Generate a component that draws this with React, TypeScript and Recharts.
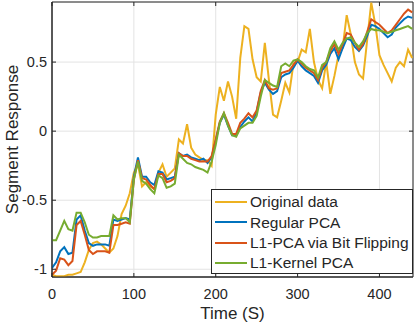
import { LineChart, Line, XAxis, YAxis, CartesianGrid, ReferenceArea, Label } from "recharts";

// sampled every 5 s, 0..440
const STEP = 5;

const original = [
  -1.04, -1.05, -1.05, -1.05, -1.04, -1.04, -1.03, -1.02, -0.95, -0.86, -0.81, -0.8, -0.82, -0.85, -0.88, -0.85, -0.76, -0.6, -0.54, -0.45, -0.3,
  -0.24, -0.4, -0.37, -0.4, -0.42, -0.3, -0.24, -0.33, -0.3, -0.27, -0.06, -0.09, 0.05, -0.12, -0.17, -0.19, -0.21,
  -0.21, -0.25, 0.12, 0.32, 0.22, 0.36, 0.25, 0.09, 0.53, 0.76, 0.74, 0.52, 0.39, 0.36, 0.64, 0.37, 0.12, 0.1, 0.22, 0.35, 0.28, 0.49,
  0.5, 0.59, 0.57, 0.74, 0.5, 0.37, 0.31, 0.5, 0.27, 0.4, 0.55, 0.6, 0.84, 0.7, 0.5, 0.41, 0.38, 0.66, 0.93, 0.77, 0.55, 0.48, 0.42,
  0.36, 0.46, 0.5, 0.47, 0.59, 0.53,
];

const regularPca = [
  -0.99, -0.95, -0.87, -0.84, -0.89, -0.88, -0.64, -0.61, -0.72, -0.81, -0.83, -0.82, -0.82, -0.82, -0.83, -0.64, -0.65, -0.64, -0.63, -0.64, -0.33,
  -0.19, -0.33, -0.33, -0.37, -0.39, -0.29, -0.3, -0.35, -0.34, -0.33, -0.16, -0.18, -0.17, -0.19, -0.2, -0.21, -0.2,
  -0.23, -0.19, -0.07, 0.06, 0.12, 0.04, -0.03, -0.03, 0.03, 0.07, 0.1, 0.07, 0.14, 0.28, 0.35, 0.3, 0.27, 0.29, 0.39, 0.41, 0.42, 0.46,
  0.51, 0.47, 0.44, 0.42, 0.4, 0.35, 0.44, 0.48, 0.56, 0.6, 0.52, 0.6, 0.67, 0.66, 0.61, 0.58, 0.62, 0.69, 0.77, 0.76, 0.74, 0.71, 0.68,
  0.7, 0.75, 0.78, 0.81, 0.83, 0.82,
];

const l1Pca = [
  -1.04, -1.01, -0.92, -0.93, -0.97, -0.94, -0.68, -0.65, -0.75, -0.86, -0.89, -0.87, -0.87, -0.87, -0.88, -0.68, -0.68, -0.67, -0.66, -0.67, -0.35,
  -0.21, -0.34, -0.35, -0.39, -0.42, -0.31, -0.31, -0.37, -0.36, -0.34, -0.16, -0.18, -0.18, -0.2, -0.21, -0.22, -0.22,
  -0.22, -0.18, -0.06, 0.07, 0.13, 0.06, -0.02, -0.02, 0.06, 0.09, 0.13, 0.1, 0.15, 0.29, 0.37, 0.31, 0.3, 0.31, 0.42, 0.43, 0.44, 0.48,
  0.52, 0.49, 0.46, 0.44, 0.42, 0.37, 0.46, 0.5, 0.58, 0.63, 0.56, 0.63, 0.71, 0.7, 0.64, 0.59, 0.63, 0.72, 0.81, 0.79, 0.77, 0.74, 0.71,
  0.73, 0.77, 0.81, 0.85, 0.88, 0.86,
];

const l1Kernel = [
  -0.79, -0.79, -0.72, -0.65, -0.71, -0.72, -0.59, -0.59, -0.66, -0.75, -0.77, -0.77, -0.76, -0.76, -0.76, -0.61, -0.64, -0.63, -0.63, -0.66, -0.35,
  -0.22, -0.36, -0.38, -0.42, -0.45, -0.32, -0.34, -0.41, -0.4, -0.38, -0.17, -0.2, -0.23, -0.24, -0.26, -0.27, -0.28,
  -0.3, -0.22, -0.1, 0.06, 0.13, 0.04, -0.03, -0.04, 0.02, 0.04, 0.06, 0.06, 0.11, 0.25, 0.37, 0.35, 0.33, 0.32, 0.47, 0.49, 0.47, 0.51,
  0.52, 0.5, 0.47, 0.45, 0.44, 0.39, 0.48, 0.5, 0.6, 0.65, 0.59, 0.64, 0.67, 0.68, 0.64, 0.61, 0.65, 0.71, 0.74, 0.73, 0.73, 0.72, 0.71,
  0.72, 0.73, 0.74, 0.75, 0.76, 0.74,
];

const xTicks = [0, 100, 200, 300, 400];
const yTicks = [-1, -0.5, 0, 0.5];
const X_DOMAIN = [0, 441];
const Y_DOMAIN = [-1.056, 0.935];

const series = [
  { key: "original", name: "Original data", color: "#EDB120" },
  { key: "regular", name: "Regular PCA", color: "#0072BD" },
  { key: "l1", name: "L1-PCA via Bit Flipping", color: "#D95319" },
  { key: "kernel", name: "L1-Kernel PCA", color: "#77AC30" },
];

const data = original.map((v, i) => ({
  t: i * STEP,
  original: v,
  regular: regularPca[i],
  l1: l1Pca[i],
  kernel: l1Kernel[i],
}));

const AXIS = "#262626";
const FONT = "'Liberation Sans', Arial, Helvetica, sans-serif";
const PLOT_TOP = 2;
const PLOT_RIGHT = 413;

const XTick = ({ x, y, payload }: any) => (
  <g>
    <line x1={x} x2={x} y1={y} y2={y - 4} stroke={AXIS} />
    <line x1={x} x2={x} y1={PLOT_TOP} y2={PLOT_TOP + 4} stroke={AXIS} />
    <text x={x} y={y + 22} textAnchor="middle" fill={AXIS} fontSize={14.5} fontFamily={FONT}>
      {payload.value}
    </text>
  </g>
);

const YTick = ({ x, y, payload }: any) => (
  <g>
    <line x1={x} x2={x + 4} y1={y} y2={y} stroke={AXIS} />
    <line x1={PLOT_RIGHT - 4} x2={PLOT_RIGHT} y1={y} y2={y} stroke={AXIS} />
    <text x={x - 5} y={y + 5} textAnchor="end" fill={AXIS} fontSize={14.5} fontFamily={FONT}>
      {payload.value}
    </text>
  </g>
);

const YTitle = ({ viewBox }: any) => {
  const cx = 18;
  const cy = viewBox.y + viewBox.height / 2;
  return (
    <text
      x={cx}
      y={cy}
      transform={`rotate(-90 ${cx} ${cy})`}
      textAnchor="middle"
      fill={AXIS}
      fontSize={17}
      fontFamily={FONT}
    >
      Segment Response
    </text>
  );
};

const LegendBox = () => (
  <div
    style={{
      position: "absolute",
      left: 211,
      top: 189,
      width: 202,
      height: 85,
      boxSizing: "border-box",
      border: `1px solid ${AXIS}`,
      background: "#fff",
      paddingTop: 2,
      fontFamily: FONT,
      fontSize: 15.5,
      color: AXIS,
    }}
  >
    {series.map((s) => (
      <div key={s.key} style={{ display: "flex", alignItems: "center", height: 20.3 }}>
        <svg width={38} height={20} style={{ flex: "none" }}>
          <line x1={3} x2={35} y1={10} y2={10} stroke={s.color} strokeWidth={2} />
        </svg>
        <span style={{ whiteSpace: "nowrap", lineHeight: 1 }}>{s.name}</span>
      </div>
    ))}
  </div>
);

export default function App() {
  return (
    <div style={{ position: "absolute", left: 0, top: 0, width: 415, height: 325, background: "#fff" }}>
      <LineChart width={415} height={325} data={data} margin={{ top: PLOT_TOP, right: 2, bottom: 0, left: 0 }}>
        <CartesianGrid stroke="#e3e3e3" ticks={undefined} />
        <XAxis
          dataKey="t"
          type="number"
          domain={X_DOMAIN}
          ticks={xTicks}
          interval={0}
          allowDataOverflow
          height={48}
          tickSize={0}
          tickMargin={0}
          tickLine={false}
          axisLine={{ stroke: AXIS }}
          tick={<XTick />}
        >
          <Label
            value="Time (S)"
            position="insideBottom"
            offset={6}
            fill={AXIS}
            fontSize={17}
            fontFamily={FONT}
          />
        </XAxis>
        <YAxis
          type="number"
          domain={Y_DOMAIN}
          ticks={yTicks}
          interval={0}
          allowDataOverflow
          width={52}
          tickSize={0}
          tickMargin={0}
          tickLine={false}
          axisLine={{ stroke: AXIS }}
          tick={<YTick />}
        >
          <Label content={<YTitle />} />
        </YAxis>
        {series.map((s) => (
          <Line
            key={s.key}
            dataKey={s.key}
            name={s.name}
            type="linear"
            stroke={s.color}
            strokeWidth={2}
            dot={false}
            isAnimationActive={false}
          />
        ))}
        <ReferenceArea
          x1={X_DOMAIN[0]}
          x2={X_DOMAIN[1]}
          y1={Y_DOMAIN[0]}
          y2={Y_DOMAIN[1]}
          fill="none"
          stroke={AXIS}
          strokeWidth={1}
        />
      </LineChart>
      <LegendBox />
    </div>
  );
}
